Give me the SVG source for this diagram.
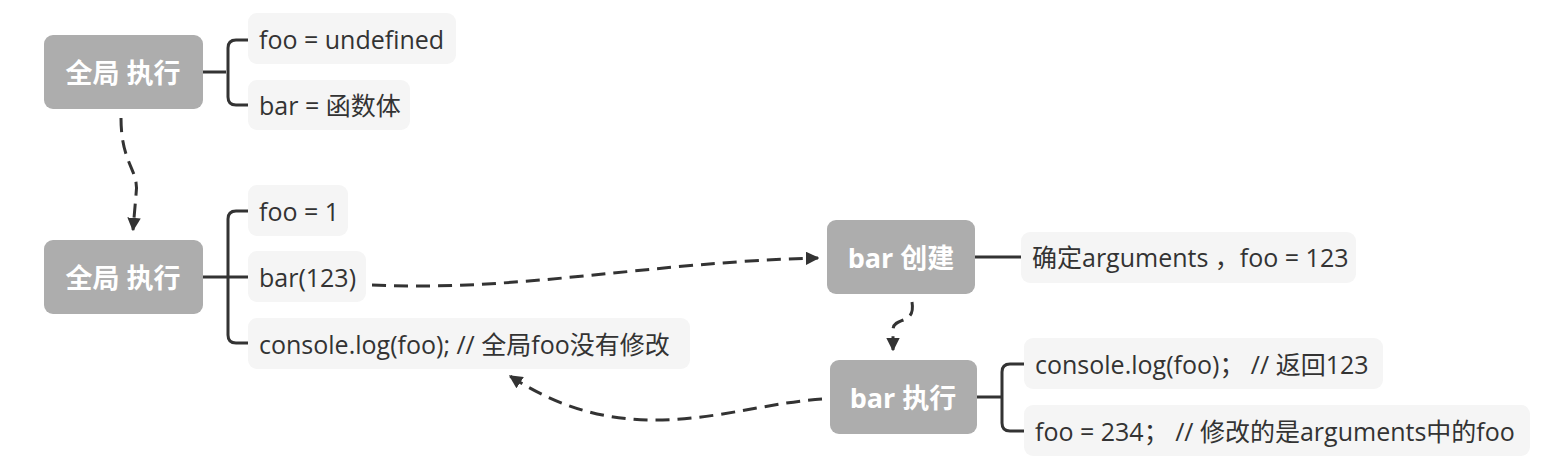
<svg xmlns="http://www.w3.org/2000/svg" width="1552" height="476" viewBox="0 0 1552 476">
<defs>
<style>
.node rect{fill:#adadad}
.node text{fill:#ffffff;font-family:"Open Sans","Noto Sans CJK SC",sans-serif;font-size:27px;font-weight:bold;text-anchor:middle;dominant-baseline:central}
.leaf rect{fill:#f5f5f5}
.leaf text{fill:#333333;font-family:"Open Sans","Noto Sans CJK SC",sans-serif;font-size:25px;dominant-baseline:central}
.br{fill:none;stroke:#333333;stroke-width:3}
.dash{fill:none;stroke:#333333;stroke-width:3;stroke-dasharray:14 8;marker-end:url(#arr)}
</style>
<marker id="arr" viewBox="0 0 10 10" refX="9" refY="5" markerWidth="4.5" markerHeight="4.5" orient="auto" markerUnits="strokeWidth">
<path d="M0,0 L10,5 L0,10 z" fill="#333333"/>
</marker>
</defs>
<rect width="1552" height="476" fill="#ffffff"/>

<g id="connectors">
<path class="br" d="M203,72 H226 M248,40 H236 Q228,40 228,48 V97 Q228,105 236,105 H248"/>
<path class="br" d="M203,277 H228 M248,211 H236 Q228,211 228,219 V335 Q228,343 236,343 H248 M228,277 H248"/>
<path class="br" d="M975,257 H1021"/>
<path class="br" d="M977,397 H1002 M1024,364 H1010 Q1002,364 1002,372 V423 Q1002,431 1010,431 H1024"/>
<path class="dash" d="M121,118 C121,165 140,170 136,195 L133,230"/>
<path class="dash" d="M372,285 C520,292 650,262 818,258"/>
<path class="dash" d="M912,302 C916,326 893,316 893,330 L893,350"/>
<path class="dash" d="M822,399 C730,405 630,455 510,376"/>
</g>

<g id="n1" class="node"><rect x="44" y="35" width="159" height="74" rx="9"/><text x="123" y="72">全局 执行</text></g>
<g id="n1a" class="leaf"><rect x="248" y="13" width="208" height="51" rx="9"/><text x="259" y="39">foo = undefined</text></g>
<g id="n1b" class="leaf"><rect x="248" y="80" width="162" height="50" rx="9"/><text x="259" y="105">bar = 函数体</text></g>

<g id="n2" class="node"><rect x="44" y="240" width="159" height="74" rx="9"/><text x="123" y="277">全局 执行</text></g>
<g id="n2a" class="leaf"><rect x="248" y="185" width="100" height="51" rx="9"/><text x="259" y="211">foo = 1</text></g>
<g id="n2b" class="leaf"><rect x="248" y="251" width="118" height="51" rx="9"/><text x="259" y="277">bar(123)</text></g>
<g id="n2c" class="leaf"><rect x="248" y="318" width="442" height="51" rx="9"/><text x="259" y="344">console.log(foo); // 全局foo没有修改</text></g>

<g id="n3" class="node"><rect x="827" y="220" width="148" height="74" rx="9"/><text x="901" y="257">bar 创建</text></g>
<g id="n3a" class="leaf"><rect x="1021" y="232" width="335" height="51" rx="9"/><text x="1032" y="257">确定arguments ，foo = 123</text></g>

<g id="n4" class="node"><rect x="830" y="360" width="147" height="74" rx="9"/><text x="903" y="397">bar 执行</text></g>
<g id="n4a" class="leaf"><rect x="1024" y="338" width="359" height="51" rx="9"/><text x="1035" y="364">console.log(foo)； // 返回123</text></g>
<g id="n4b" class="leaf"><rect x="1024" y="405" width="506" height="51" rx="9"/><text x="1035" y="431">foo = 234； // 修改的是arguments中的foo</text></g>
</svg>
